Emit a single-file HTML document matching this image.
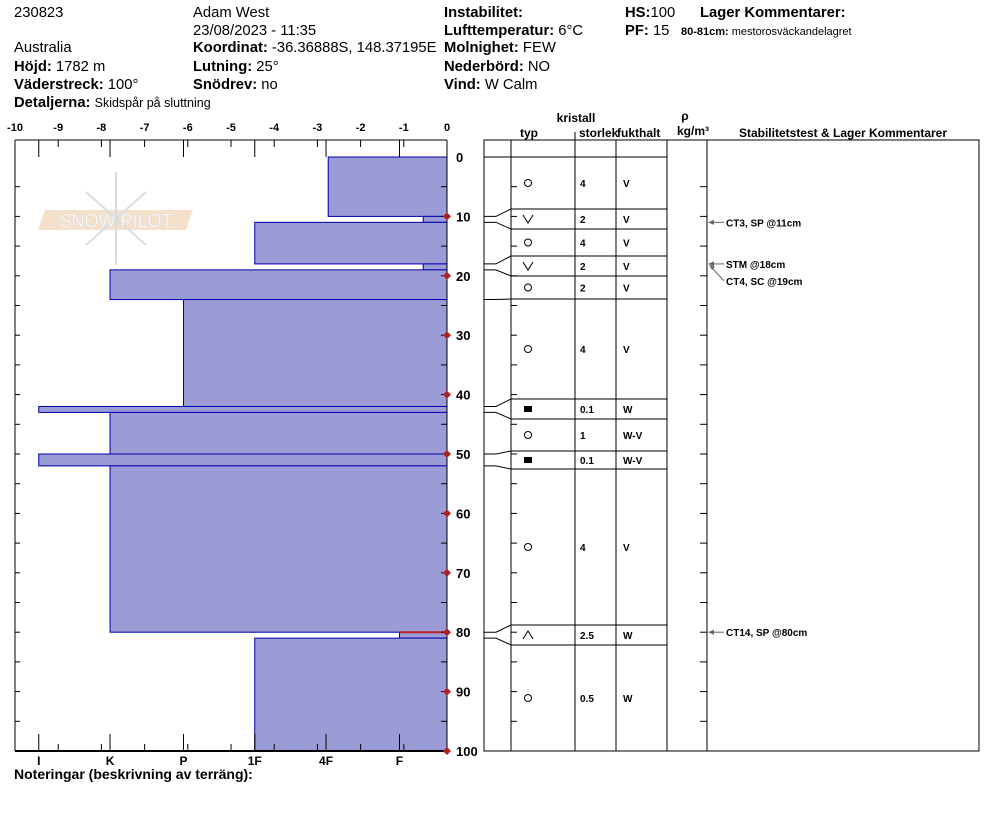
<!DOCTYPE html>
<html><head><meta charset="utf-8"><style>
body{margin:0;background:#fff;}
svg{display:block;font-family:"Liberation Sans",sans-serif;}
.b{font-weight:bold;}
</style></head><body>
<svg id="s" width="994" height="840" viewBox="0 0 994 840">
<g font-size="14.8">
<text x="14" y="17">230823</text>
<text x="14" y="52">Australia</text>
<text x="14" y="71"><tspan class="b">Höjd:</tspan> 1782 m</text>
<text x="14" y="89"><tspan class="b">Väderstreck:</tspan> 100°</text>
<text x="14" y="107"><tspan class="b">Detaljerna:</tspan> <tspan font-size="12.5">Skidspår på sluttning</tspan></text>
<text x="193" y="17">Adam West</text>
<text x="193" y="35">23/08/2023 - 11:35</text>
<text x="193" y="52"><tspan class="b">Koordinat:</tspan> -36.36888S, 148.37195E</text>
<text x="193" y="71"><tspan class="b">Lutning:</tspan> 25°</text>
<text x="193" y="89"><tspan class="b">Snödrev:</tspan> no</text>
<text x="444" y="17" class="b">Instabilitet:</text>
<text x="444" y="35"><tspan class="b">Lufttemperatur:</tspan> 6°C</text>
<text x="444" y="52"><tspan class="b">Molnighet:</tspan> FEW</text>
<text x="444" y="71"><tspan class="b">Nederbörd:</tspan> NO</text>
<text x="444" y="89"><tspan class="b">Vind:</tspan>  W Calm</text>
<text x="625" y="17"><tspan class="b">HS:</tspan>100</text>
<text x="625" y="35"><tspan class="b">PF:</tspan> 15</text>
<text x="700" y="17" class="b">Lager Kommentarer:</text>
<text x="681" y="35" font-size="11"><tspan class="b">80-81cm:</tspan> mestorosväckandelagret</text>
</g>
<g opacity="0.6">
<polygon points="45,210 193,210 186,230 38,230" fill="#f0cca8"/>
<g stroke="#b8c8d4" stroke-width="2" fill="none">
<line x1="116" y1="172" x2="116" y2="265"/>
<line x1="86" y1="192" x2="146" y2="245"/>
<line x1="146" y1="192" x2="86" y2="245"/>
</g>
<text x="116" y="227" text-anchor="middle" font-size="18" fill="#fff" stroke="#c8c8c8" stroke-width="0.6">SNOW PILOT</text>
</g>
<g id="left"></g>
<g id="right"></g>
<text x="14" y="779" font-size="14" class="b">Noteringar (beskrivning av terräng):</text>
</svg>
<script>
const depthTop=[0,10,11,18,19,24,42,43,50,52,80,81];
const depthBot=[10,11,18,19,24,42,43,50,52,80,81,100];
const hardness=[2.75,0.55,4.45,0.55,7.8,6.1,9.45,7.8,9.45,7.8,1.1,4.45];
const hardLabels=["I","K","P","1F","4F","F"];
const hardPos=[9.45,7.8,6.1,4.45,2.8,1.1];
const crystal=["o","v","o","v","o","o","s","o","s","o","^","o"];
const sizes=["4","2","4","2","2","4","0.1","1","0.1","4","2.5","0.5"];
const moist=["V","V","V","V","V","V","W","W-V","W-V","V","W","W"];
const tableTop=[157,209,229,256,276,299,399,419,451,469,625,645];
const tableBot=[209,229,256,276,299,399,419,451,469,625,645,751];
const testDepth=[11,18,19,80];
const testText=["CT3, SP @11cm","STM @18cm","CT4, SC @19cm","CT14, SP @80cm"];

const NS="http://www.w3.org/2000/svg";
function mk(p,t,a){const e=document.createElementNS(NS,t);for(const k in a)e.setAttribute(k,a[k]);p.appendChild(e);return e;}
const X=v=>447-v*43.2;
const Y=d=>157+d*5.94;
const L=document.getElementById('left'),R=document.getElementById('right');
for(let i=0;i<hardness.length;i++){
 const r=mk(L,'rect',{x:X(hardness[i]),y:Y(depthTop[i]),width:447-X(hardness[i]),height:Y(depthBot[i])-Y(depthTop[i]),fill:'#9b9bd5',stroke:'#0000aa','stroke-width':1});
 
 
}
const redl=mk(L,'line',{x1:X(1.1),y1:Y(80),x2:447,y2:Y(80),stroke:'#c02020','stroke-width':2});


mk(L,'line',{x1:15,y1:140,x2:447,y2:140,stroke:'#000'});
mk(L,'line',{x1:15,y1:751,x2:447,y2:751,stroke:'#000','stroke-width':2});
mk(L,'line',{x1:15,y1:140,x2:15,y2:751,stroke:'#000'});
mk(L,'line',{x1:447,y1:140,x2:447,y2:751,stroke:'#000'});
for(let v=0;v<=10;v++){
 mk(L,'line',{x1:X(v),y1:140,x2:X(v),y2:147,stroke:'#000'});
 mk(L,'line',{x1:X(v),y1:751,x2:X(v),y2:744,stroke:'#000'});
 const t=mk(L,'text',{x:X(v),y:131,'font-size':11,'font-weight':'bold','text-anchor':'middle'});t.textContent=v==0?'0':'-'+v;
 
 
}
for(let i=0;i<hardPos.length;i++){
 const x=X(hardPos[i]);
 mk(L,'line',{x1:x,y1:140,x2:x,y2:157,stroke:'#000'});
 mk(L,'line',{x1:x,y1:751,x2:x,y2:734,stroke:'#000'});
 const t=mk(L,'text',{x:x,y:765,'font-size':12,'font-weight':'bold','text-anchor':'middle'});t.textContent=hardLabels[i];
 
 
}
for(let d=5;d<100;d+=5){
 mk(L,'line',{x1:15,y1:Y(d),x2:20,y2:Y(d),stroke:'#000'});
 mk(L,'line',{x1:441,y1:Y(d),x2:447,y2:Y(d),stroke:'#000'});
}
for(let d=0;d<=100;d+=10){
 if(d>0){const p=mk(L,'path',{d:`M${447-4} ${Y(d)} L447 ${Y(d)-4} L${451} ${Y(d)} L447 ${Y(d)+4}Z`,fill:'#b02020'});
 
 }
 const t=mk(L,'text',{x:456,y:Y(d)+5,'font-size':13,'font-weight':'bold'});t.textContent=d;
 
 
}
const hdr=[[576,122,'kristall'],[529,137,'typ'],[579,137,'storlek'],[617,137,'fukthalt'],[685,120,'ρ'],[693,135,'kg/m³'],[843,137,'Stabilitetstest & Lager Kommentarer']];
hdr.forEach(h=>{const t=mk(R,'text',{x:h[0],y:h[1],'font-size':12,'font-weight':'bold','text-anchor':h[0]==579||h[0]==617?'start':'middle'});t.textContent=h[2];
 
 });
mk(R,'rect',{x:484,y:140,width:495,height:611,fill:'none',stroke:'#000'});
[511,575,616,667,707].forEach(x=>mk(R,'line',{x1:x,y1:140,x2:x,y2:751,stroke:'#000'}));
mk(R,'line',{x1:575,y1:132,x2:575,y2:140,stroke:'#000'});
mk(R,'line',{x1:484,y1:157,x2:667,y2:157,stroke:'#000'});
for(let d=5;d<100;d+=5){
 mk(R,'line',{x1:511,y1:Y(d),x2:517,y2:Y(d),stroke:'#000'});
 mk(R,'line',{x1:700,y1:Y(d),x2:707,y2:Y(d),stroke:'#000'});
}
for(let i=0;i<crystal.length;i++){
 const t0=tableTop[i],t1=tableBot[i],cy=(t0+t1)/2;
 if(i>0){mk(R,'line',{x1:511,y1:t0,x2:667,y2:t0,stroke:'#000'});
  mk(R,'polyline',{points:`484,${Y(depthTop[i])} 496,${Y(depthTop[i])} 511,${t0}`,fill:'none',stroke:'#000'});}
 const g=mk(R,'g',{});
 
 
 const c=crystal[i];
 if(c=='o')mk(g,'circle',{cx:528,cy:cy,r:3.5,fill:'none',stroke:'#000'});
 else if(c=='v')mk(g,'polyline',{points:`523,${cy-4} 528,${cy+4} 533,${cy-4}`,fill:'none',stroke:'#000'});
 else if(c=='^')mk(g,'polyline',{points:`523,${cy+4} 528,${cy-4} 533,${cy+4}`,fill:'none',stroke:'#000'});
 else mk(g,'rect',{x:524,y:cy-3,width:8,height:6,fill:'#000'});
 const s=mk(R,'text',{x:580,y:cy+4,'font-size':10,'font-weight':'bold'});s.textContent=sizes[i];
 
 
 const m=mk(R,'text',{x:623,y:cy+4,'font-size':10,'font-weight':'bold'});m.textContent=moist[i];
 
 
}
for(let i=0;i<testDepth.length;i++){
 const y=Y(testDepth[i]);
 let ty=y+4;
 if(i==2){ty=Y(testDepth[i])+15;mk(R,'line',{x1:711,y1:y-3,x2:724,y2:ty-4,stroke:'#666'});mk(R,'path',{d:`M709 ${y-5} l6 2 l-3 3z`,fill:'#666'});}
 else{mk(R,'line',{x1:712,y1:y,x2:724,y2:y,stroke:'#666'});mk(R,'path',{d:`M708 ${y} l6 -2.5 l0 5z`,fill:'#666'});}
 const t=mk(R,'text',{x:726,y:ty,'font-size':10,'font-weight':'bold'});t.textContent=testText[i];
 
 
}
</script>
</body></html>
